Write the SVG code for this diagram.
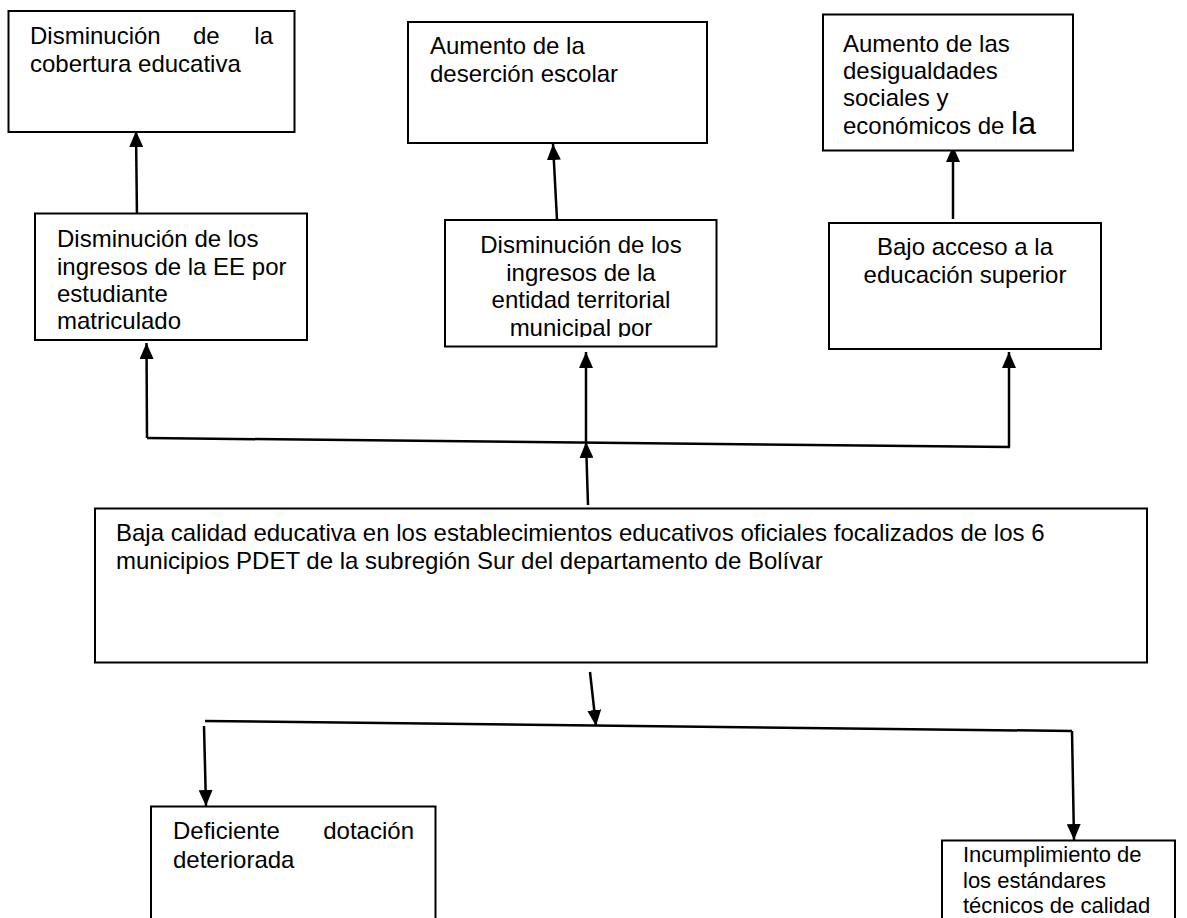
<svg xmlns="http://www.w3.org/2000/svg" width="1187" height="918" viewBox="0 0 1187 918">
  <style>
    .box { fill: #ffffff; stroke: #000000; stroke-width: 2; }
    .t { font-family: "Liberation Sans", Arial, sans-serif; font-size: 24px; fill: #000000; }
    .s { font-size: 22px; }
    .c { text-anchor: middle; }
    .e { text-anchor: end; }
    .ln { fill: none; stroke: #000000; stroke-width: 2.5; }
    .arr { fill: none; stroke: #000000; stroke-width: 2.5; marker-end: url(#ah); }
  </style>
  <defs>
    <marker id="ah" markerUnits="userSpaceOnUse" markerWidth="16" markerHeight="14" refX="16" refY="7" orient="auto" viewBox="0 0 16 14">
      <path d="M0,0 L16,7 L0,14 z" fill="#000000"/>
    </marker>
    <clipPath id="clip3"><rect x="446" y="221" width="270" height="116"/></clipPath>
  </defs>
  <rect width="1187" height="918" fill="#ffffff"/>

  <g id="connectors">
    <line class="arr" x1="137" y1="219" x2="136" y2="131"/>
    <line class="arr" x1="557" y1="220" x2="553" y2="144"/>
    <line class="arr" x1="953" y1="219" x2="953" y2="146"/>
    <line class="ln" x1="147" y1="438" x2="1010" y2="447"/>
    <line class="arr" x1="147" y1="438" x2="146.5" y2="343"/>
    <line class="arr" x1="586" y1="442" x2="586" y2="352"/>
    <line class="arr" x1="1009" y1="447" x2="1009" y2="352"/>
    <line class="arr" x1="588" y1="505" x2="586" y2="442"/>
    <line class="arr" x1="590" y1="672" x2="596" y2="726"/>
    <line class="ln" x1="205" y1="721" x2="1072" y2="731"/>
    <line class="arr" x1="204" y1="726" x2="206" y2="806"/>
    <line class="arr" x1="1072" y1="731" x2="1074" y2="840"/>
  </g>

  <g id="n1">
    <rect class="box" x="8.5" y="11" width="286" height="121"/>
    <text class="t" x="30" y="44">Disminución</text>
    <text class="t" x="193" y="44">de</text>
    <text class="t e" x="273" y="44">la</text>
    <text class="t" x="30" y="72">cobertura educativa</text>
  </g>

  <g id="n2">
    <rect class="box" x="408" y="22" width="299" height="121"/>
    <text class="t" x="430" y="54">Aumento de la</text>
    <text class="t" x="430" y="82">deserción escolar</text>
  </g>

  <g id="n3">
    <rect class="box" x="823" y="14.5" width="250" height="136"/>
    <text class="t" x="843" y="52">Aumento de las</text>
    <text class="t" x="843" y="79">desigualdades</text>
    <text class="t" x="843" y="106">sociales y</text>
    <text class="t" x="843" y="134">económicos de <tspan font-size="32">la</tspan></text>
  </g>

  <g id="n4">
    <rect class="box" x="35" y="213.5" width="272" height="126.5"/>
    <text class="t" x="57" y="247">Disminución de los</text>
    <text class="t" x="57" y="274.5">ingresos de la EE por</text>
    <text class="t" x="57" y="302">estudiante</text>
    <text class="t" x="57" y="329">matriculado</text>
  </g>

  <g id="n5">
    <rect class="box" x="445" y="220" width="271.5" height="126.5"/>
    <g clip-path="url(#clip3)">
      <text class="t c" x="581" y="253">Disminución de los</text>
      <text class="t c" x="581" y="281">ingresos de la</text>
      <text class="t c" x="581" y="308">entidad territorial</text>
      <text class="t c" x="581" y="335.5">municipal por</text>
    </g>
  </g>

  <g id="n6">
    <rect class="box" x="829" y="223" width="272" height="126"/>
    <text class="t c" x="965" y="255">Bajo acceso a la</text>
    <text class="t c" x="965" y="283">educación superior</text>
  </g>

  <g id="n7">
    <rect class="box" x="95" y="508.5" width="1052" height="154"/>
    <text class="t" x="116" y="541">Baja calidad educativa en los establecimientos educativos oficiales focalizados de los 6</text>
    <text class="t" x="116" y="568.5">municipios PDET de la subregión Sur del departamento de Bolívar</text>
  </g>

  <g id="n8">
    <path class="box" d="M151,920 L151,806.5 L435.5,806.5 L435.5,920"/>
    <text class="t" x="173" y="839">Deficiente</text>
    <text class="t e" x="414" y="839">dotación</text>
    <text class="t" x="173" y="868">deteriorada</text>
  </g>

  <g id="n9">
    <path class="box" d="M942,920 L942,840.5 L1175,840.5 L1175,920"/>
    <text class="t s" x="963" y="862">Incumplimiento de</text>
    <text class="t s" x="963" y="887.5">los estándares</text>
    <text class="t s" x="963" y="913">técnicos de calidad</text>
  </g>
</svg>
